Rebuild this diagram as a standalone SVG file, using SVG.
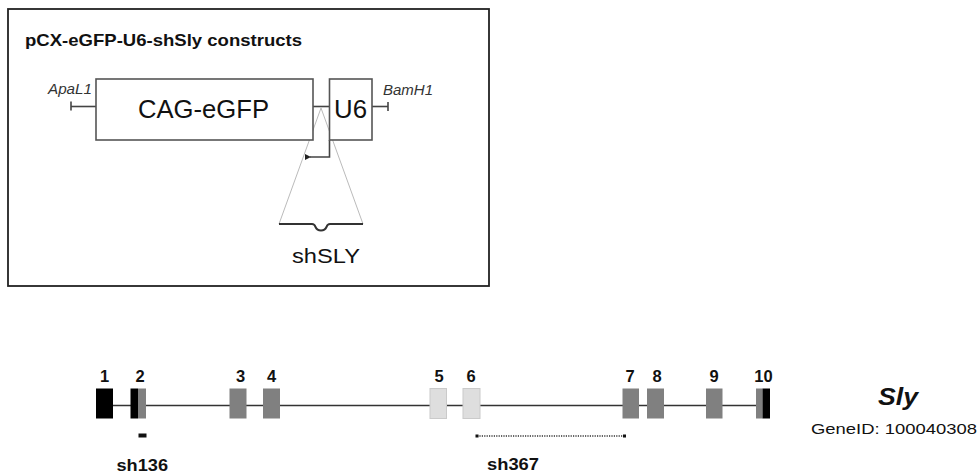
<svg xmlns="http://www.w3.org/2000/svg" width="978" height="473" viewBox="0 0 978 473">
<defs>
<style>
text{font-family:"Liberation Sans",Arial,sans-serif;fill:#111}
.box{fill:#fff;stroke:#555;stroke-width:1.6}
.ln{stroke:#444;stroke-width:1.6;fill:none}
.tri{stroke:#bbb;stroke-width:1;fill:none}
.gl{stroke:#333;stroke-width:1.6}
.ex{fill:#808080}
.exb{fill:#000}
.exl{fill:#dedede;stroke:#cacaca;stroke-width:1}
.num{font-size:16.5px;font-weight:bold;text-anchor:middle}
.lab{font-size:16.5px;font-weight:bold}
.it{font-size:14px;font-style:italic;fill:#333}
</style>
<marker id="ah" viewBox="0 0 6 6" refX="1" refY="3" markerWidth="6" markerHeight="6" orient="auto-start-reverse" markerUnits="userSpaceOnUse">
<path d="M0,3 L6,0 L6,6 Z" fill="#222"/>
</marker>
</defs>
<rect x="0" y="0" width="978" height="473" fill="#fff"/>

<g id="construct-frame">
<rect x="8" y="9" width="481" height="277" fill="none" stroke="#222" stroke-width="1.8"/>
<text x="25" y="46" font-size="16.5" font-weight="bold" textLength="277" lengthAdjust="spacingAndGlyphs">pCX-eGFP-U6-shSly constructs</text>
</g>

<g id="connectors">
<line class="ln" x1="71" y1="106.5" x2="96" y2="106.5"/>
<line class="ln" x1="71" y1="101.5" x2="71" y2="110.5"/>
<line class="ln" x1="313" y1="106.5" x2="329" y2="106.5"/>
<line class="ln" x1="372" y1="106.5" x2="388" y2="106.5"/>
<line class="ln" x1="388" y1="102" x2="388" y2="111"/>
<path class="ln" d="M329.5,140 V157 H310" marker-end="url(#ah)"/>
<path class="tri" d="M279,224 L321,108 L363,224"/>
</g>

<g id="apal1"><text class="it" x="48" y="94" textLength="44" lengthAdjust="spacingAndGlyphs">ApaL1</text></g>
<g id="bamh1"><text class="it" x="383" y="95" textLength="50" lengthAdjust="spacingAndGlyphs">BamH1</text></g>

<g id="cag-egfp">
<rect class="box" x="96" y="79" width="217" height="61"/>
<text x="138" y="118" font-size="25" textLength="131" lengthAdjust="spacingAndGlyphs">CAG-eGFP</text>
</g>

<g id="u6">
<rect class="box" x="329.5" y="79" width="42.5" height="61"/>
<text x="334" y="118" font-size="25" textLength="33" lengthAdjust="spacingAndGlyphs">U6</text>
</g>

<g id="shsly">
<path d="M279,224 H312 Q314.5,224 315.5,227 Q317,230.5 321,230.5 Q325,230.5 326.5,227 Q327.5,224 330,224 H363" fill="none" stroke="#333" stroke-width="2"/>
<text x="292" y="263" font-size="21" textLength="68" lengthAdjust="spacingAndGlyphs">shSLY</text>
</g>

<g id="gene">
<line class="gl" x1="96" y1="405.5" x2="756" y2="405.5"/>
<g id="exon1"><rect class="exb" x="96" y="388.5" width="17" height="30"/><text class="num" x="104.5" y="381.5">1</text></g>
<g id="exon2"><rect class="exb" x="130.5" y="388.5" width="7.5" height="30"/><rect class="ex" x="138" y="388.5" width="8" height="30"/><text class="num" x="140" y="381.5">2</text></g>
<g id="exon3"><rect class="ex" x="229.5" y="388.5" width="17" height="30"/><text class="num" x="240.5" y="381.5">3</text></g>
<g id="exon4"><rect class="ex" x="263" y="388.5" width="17" height="30"/><text class="num" x="271.5" y="381.5">4</text></g>
<g id="exon5"><rect class="exl" x="430" y="388.5" width="16.5" height="30"/><text class="num" x="439" y="381.5">5</text></g>
<g id="exon6"><rect class="exl" x="463" y="388.5" width="17" height="30"/><text class="num" x="471" y="381.5">6</text></g>
<g id="exon7"><rect class="ex" x="622.5" y="388.5" width="16.5" height="30"/><text class="num" x="630" y="381.5">7</text></g>
<g id="exon8"><rect class="ex" x="647" y="388.5" width="17" height="30"/><text class="num" x="657" y="381.5">8</text></g>
<g id="exon9"><rect class="ex" x="706" y="388.5" width="16.5" height="30"/><text class="num" x="714" y="381.5">9</text></g>
<g id="exon10"><rect class="ex" x="756" y="388.5" width="6.5" height="30"/><rect class="exb" x="762.5" y="388.5" width="7.5" height="30"/><text class="num" x="763.5" y="381.5">10</text></g>
</g>

<g id="sh136">
<rect x="138.5" y="433.5" width="8" height="4" fill="#111"/>
<text class="lab" x="116.5" y="470.5" textLength="51.5" lengthAdjust="spacingAndGlyphs">sh136</text>
</g>

<g id="sh367">
<line x1="477" y1="436" x2="624.5" y2="436" stroke="#333" stroke-width="1.4" stroke-dasharray="1.2,1.2"/>
<rect x="475.5" y="434.5" width="3" height="3" fill="#111"/>
<rect x="623" y="434.5" width="3" height="3" fill="#111"/>
<text class="lab" x="487" y="470" textLength="52" lengthAdjust="spacingAndGlyphs">sh367</text>
</g>

<g id="sly-label">
<text x="878" y="405" font-size="23" font-weight="bold" font-style="italic" textLength="40" lengthAdjust="spacingAndGlyphs">Sly</text>
<text x="811" y="433.5" font-size="15.5" fill="#222" textLength="166" lengthAdjust="spacingAndGlyphs">GeneID: 100040308</text>
</g>
</svg>
